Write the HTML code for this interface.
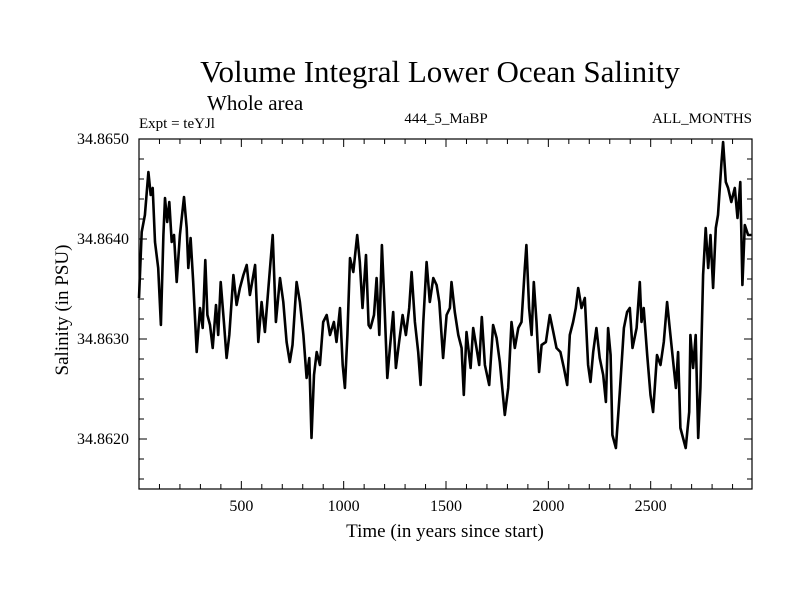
<!DOCTYPE html>
<html><head><meta charset="utf-8"><style>
html,body{margin:0;padding:0;background:#fff}
svg{display:block;font-family:"Liberation Serif",serif}
</style></head><body>
<svg id="chart" width="800" height="600" viewBox="0 0 800 600">
<text x="440" y="82" text-anchor="middle" font-size="31">Volume Integral Lower Ocean Salinity</text>
<text x="207" y="110" font-size="21">Whole area</text>
<text x="139" y="128" font-size="15">Expt = teYJl</text>
<text x="446" y="123" text-anchor="middle" font-size="15">444_5_MaBP</text>
<text x="752" y="123" text-anchor="end" font-size="15">ALL_MONTHS</text>
<text x="445" y="537" text-anchor="middle" font-size="19">Time (in years since start)</text>
<text transform="translate(68,310) rotate(-90)" text-anchor="middle" font-size="19">Salinity (in PSU)</text>
<g id="axes"></g>
<g id="series"></g>
<rect x="139" y="139" width="613" height="350" fill="none" stroke="#000" stroke-width="1.2"/>
</svg>
<script>
const years=[0,13,29,46,57,67,78,94,107,119,127,138,148,160,171,184,200,220,233,241,252,265,282,298,311,324,334,347,360,376,387,399,415,428,441,461,477,493,510,526,542,567,583,599,615,632,653,669,689,705,721,737,750,770,786,803,819,832,843,855,868,884,900,917,933,952,965,982,995,1006,1018,1031,1047,1066,1079,1092,1109,1122,1131,1148,1161,1174,1187,1200,1213,1226,1242,1255,1271,1288,1304,1320,1332,1348,1364,1376,1389,1405,1421,1438,1454,1467,1486,1503,1519,1527,1543,1560,1576,1587,1600,1620,1633,1649,1662,1675,1690,1711,1730,1747,1763,1787,1804,1820,1836,1853,1869,1885,1893,1906,1918,1929,1942,1955,1967,1988,2007,2024,2040,2059,2076,2092,2105,2121,2134,2146,2162,2178,2194,2206,2219,2235,2251,2268,2281,2292,2304,2313,2330,2349,2369,2385,2398,2411,2431,2447,2455,2466,2483,2499,2512,2531,2548,2564,2580,2593,2610,2623,2634,2645,2671,2688,2694,2707,2720,2732,2743,2756,2769,2781,2792,2805,2818,2829,2846,2854,2867,2878,2894,2911,2924,2938,2948,2960,2976,2992];
const salinity=[34.86341,34.86407,34.86424,34.86467,34.86444,34.86451,34.86397,34.86371,34.86314,34.86404,34.86441,34.86417,34.86437,34.86397,34.86404,34.86357,34.86404,34.86442,34.86411,34.86371,34.86401,34.86357,34.86287,34.86331,34.86311,34.86379,34.86324,34.86314,34.86291,34.86334,34.86304,34.86357,34.86317,34.86281,34.86304,34.86364,34.86334,34.86351,34.86364,34.86374,34.86344,34.86374,34.86297,34.86337,34.86307,34.86351,34.86404,34.86317,34.86361,34.86337,34.86297,34.86277,34.86294,34.86357,34.86337,34.86304,34.86261,34.86281,34.86201,34.86264,34.86287,34.86274,34.86317,34.86324,34.86304,34.86317,34.86297,34.86331,34.86274,34.86251,34.86304,34.86381,34.86367,34.86404,34.86377,34.86331,34.86384,34.86314,34.86311,34.86324,34.86361,34.86304,34.86394,34.86331,34.86261,34.86291,34.86327,34.86271,34.86297,34.86324,34.86304,34.86331,34.86367,34.86317,34.86287,34.86254,34.86317,34.86377,34.86337,34.86361,34.86354,34.86337,34.86281,34.86324,34.86331,34.86357,34.86327,34.86304,34.86291,34.86244,34.86307,34.86271,34.86311,34.86291,34.86274,34.86322,34.86274,34.86254,34.86314,34.86301,34.86277,34.86224,34.86251,34.86317,34.86291,34.86311,34.86317,34.86371,34.86394,34.86331,34.86304,34.86357,34.86317,34.86267,34.86294,34.86297,34.86324,34.86307,34.86291,34.86287,34.86271,34.86254,34.86304,34.86317,34.86331,34.86351,34.86331,34.86341,34.86274,34.86257,34.86287,34.86311,34.86281,34.86264,34.86237,34.86311,34.86284,34.86204,34.86191,34.86247,34.86311,34.86327,34.86331,34.86291,34.86311,34.86357,34.86317,34.86331,34.86284,34.86244,34.86227,34.86284,34.86274,34.86297,34.86337,34.86311,34.86277,34.86251,34.86287,34.86211,34.86191,34.86227,34.86304,34.86271,34.86304,34.86201,34.86251,34.86364,34.86411,34.86371,34.86404,34.86351,34.86411,34.86424,34.86477,34.86497,34.86457,34.86451,34.86437,34.86451,34.86421,34.86457,34.86354,34.86414,34.86404,34.86404];
const xTicks=[500,1000,1500,2000,2500];
const xTickLabels=["500","1000","1500","2000","2500"];
const yTicks=[34.862,34.863,34.864,34.865];
const yTickLabels=["34.8620","34.8630","34.8640","34.8650"];

const L=139,R=752,T=139,B=489,X0=0,X1=2995,Y0=34.8615,Y1=34.8650;
const xs=v=>L+(v-X0)/(X1-X0)*(R-L);
const ys=v=>B-(v-Y0)/(Y1-Y0)*(B-T);
const NS="http://www.w3.org/2000/svg";
const axes=document.getElementById('axes');
function ln(x1,y1,x2,y2,name){const e=document.createElementNS(NS,'line');e.setAttribute('x1',x1);e.setAttribute('y1',y1);e.setAttribute('x2',x2);e.setAttribute('y2',y2);e.setAttribute('stroke','#000');e.setAttribute('stroke-width','1');


axes.appendChild(e);}
function tx(x,y,s,anchor,name){const e=document.createElementNS(NS,'text');e.setAttribute('x',x);e.setAttribute('y',y);e.setAttribute('font-size','16');e.setAttribute('text-anchor',anchor);e.textContent=s;


axes.appendChild(e);}
for(let v=100;v<X1;v+=100){const x=xs(v);const maj=v%500===0;const len=maj?8:5;ln(x,B,x,B-len,'x-tick');ln(x,T,x,T+len,'x-tick-top');}
for(let k=1;k<=17;k++){const v=34.8614+k*0.0002;if(v>Y1+1e-9)break;const y=ys(v);const maj=Math.round(v*10000)%10===0;const len=maj?8:5;ln(L,y,L+len,y,'y-tick');ln(R,y,R-len,y,'y-tick-right');}
xTicks.forEach((v,i)=>tx(xs(v),B+22,xTickLabels[i],'middle','x-tick-label'));
yTicks.forEach((v,i)=>tx(L-10,ys(v)+5,yTickLabels[i],'end','y-tick-label'));
const p=document.createElementNS(NS,'path');
p.setAttribute('d',years.map((y,i)=>(i?'L':'M')+xs(y).toFixed(1)+','+ys(salinity[i]).toFixed(1)).join(''));
p.setAttribute('fill','none');p.setAttribute('stroke','#000');p.setAttribute('stroke-width','2.6');p.setAttribute('stroke-linejoin','round');


document.getElementById('series').appendChild(p);
</script>
</body></html>
